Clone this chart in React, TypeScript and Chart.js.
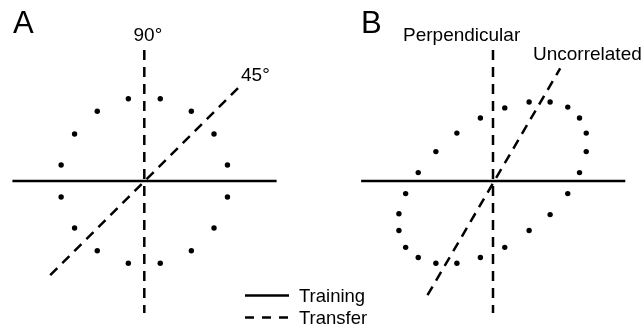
import { useEffect, useRef } from 'react';
import { Chart, registerables } from 'chart.js';

Chart.register(...registerables);

// ---------- data (units: radius of panel A circle = 1) ----------
const panelLabels = ['A', 'B'];
const lineLabelsA = ['90°', '45°'];
const lineLabelsB = ['Perpendicular', 'Uncorrelated'];
const legendLabels = ['Training', 'Transfer'];

// Panel A: training directions on a circle
const dotsAX = [0.19, 0.56, 0.83, 0.99, 0.99, 0.83, 0.56, 0.19, -0.19, -0.56, -0.83, -0.99, -0.99, -0.83, -0.56, -0.19];
const dotsAY = [0.98, 0.83, 0.56, 0.19, -0.19, -0.56, -0.83, -0.98, -0.98, -0.83, -0.56, -0.19, 0.19, 0.56, 0.83, 0.98];

// Panel B: tilted ellipse
const dotsBX = [0.14, 0.43, 0.68, 0.89, 1.03, 1.11, 1.11, 1.03, 0.89, 0.68, 0.43, 0.14, -0.15, -0.43, -0.68, -0.89, -1.04, -1.12, -1.12, -1.04, -0.89, -0.68, -0.43, -0.15];
const dotsBY = [0.87, 0.94, 0.94, 0.88, 0.75, 0.57, 0.35, 0.10, -0.15, -0.40, -0.59, -0.79, -0.91, -0.98, -0.98, -0.91, -0.79, -0.59, -0.39, -0.15, 0.10, 0.35, 0.57, 0.75];

// Lines (end points)
const trainingX = [-1.57, 1.575];
const trainingY = [0, 0];
const perpX = [0, 0];
const perpY = [1.56, -1.57];
const transferAX = [-1.12, 1.12];
const transferAY = [-1.12, 1.11];
const transferBX = [-0.78, 0.8];
const transferBY = [-1.36, 1.34];

const pts = (xs: number[], ys: number[]) => xs.map((x, i) => ({ x, y: ys[i] }));

const FONT = '"Liberation Sans", Arial, Helvetica, sans-serif';
const INK = '#000000';
const DASH = [10, 7];

const textPlugin = {
  id: 'figureText',
  afterDraw(chart: any) {
    const ctx = chart.ctx;
    ctx.save();
    ctx.fillStyle = INK;
    ctx.textBaseline = 'alphabetic';
    ctx.textAlign = 'left';
    // panel letters
    ctx.font = `31px ${FONT}`;
    ctx.fillText(panelLabels[0], 13, 33.3);
    ctx.fillText(panelLabels[1], 361, 33.3);
    // line labels
    ctx.font = `19px ${FONT}`;
    ctx.fillText(lineLabelsA[0], 133.5, 41);
    ctx.fillText(lineLabelsA[1], 241, 81);
    ctx.fillText(lineLabelsB[0], 403, 41);
    ctx.fillText(lineLabelsB[1], 533, 60);
    // legend
    ctx.strokeStyle = INK;
    ctx.lineWidth = 2.5;
    ctx.beginPath();
    ctx.setLineDash([]);
    ctx.moveTo(245, 295.5);
    ctx.lineTo(289, 295.5);
    ctx.stroke();
    ctx.beginPath();
    ctx.setLineDash([9, 8]);
    ctx.moveTo(245, 317.5);
    ctx.lineTo(290, 317.5);
    ctx.stroke();
    ctx.setLineDash([]);
    ctx.font = `18.5px ${FONT}`;
    ctx.fillText(legendLabels[0], 299, 302);
    ctx.fillText(legendLabels[1], 299, 323.5);
    ctx.restore();
  },
};

export default function App() {
  const ref = useRef<HTMLCanvasElement>(null);

  useEffect(() => {
    if (!ref.current) return;
    const U = 84; // pixels per unit
    const lineDs = (xs: number[], ys: number[], axis: string, dashed: boolean) => ({
      type: 'line' as const,
      data: pts(xs, ys),
      xAxisID: axis,
      yAxisID: 'y',
      showLine: true,
      borderColor: INK,
      borderWidth: 2.5,
      borderDash: dashed ? DASH : [],
      borderCapStyle: 'butt' as const,
      pointRadius: 0,
      fill: false,
      tension: 0,
    });
    const dotDs = (xs: number[], ys: number[], axis: string) => ({
      type: 'scatter' as const,
      data: pts(xs, ys),
      xAxisID: axis,
      yAxisID: 'y',
      showLine: false,
      pointRadius: 2.7,
      pointBackgroundColor: INK,
      pointBorderWidth: 0,
      borderColor: INK,
      backgroundColor: INK,
    });

    const chart = new Chart(ref.current, {
      type: 'scatter',
      data: {
        datasets: [
          lineDs(trainingX, trainingY, 'xA', false),
          lineDs(perpX, perpY, 'xA', true),
          lineDs(transferAX, transferAY, 'xA', true),
          dotDs(dotsAX, dotsAY, 'xA'),
          lineDs(trainingX, trainingY, 'xB', false),
          lineDs(perpX, perpY, 'xB', true),
          lineDs(transferBX, transferBY, 'xB', true),
          dotDs(dotsBX, dotsBY, 'xB'),
        ] as any,
      },
      options: {
        animation: false,
        responsive: false,
        layout: { padding: 0, autoPadding: false },
        plugins: { legend: { display: false }, tooltip: { enabled: false }, title: { display: false } },
        scales: {
          xA: { type: 'linear', display: false, min: -144.3 / U, max: (644 - 144.3) / U },
          xB: { type: 'linear', display: false, min: -493 / U, max: (644 - 493) / U },
          y: { type: 'linear', display: false, min: -(325 - 181) / U, max: 181 / U },
        },
      } as any,
      plugins: [textPlugin],
    });
    return () => chart.destroy();
  }, []);

  return (
    <div style={{ position: 'absolute', left: 0, top: 0, width: 644, height: 325, background: '#fff' }}>
      <canvas ref={ref} width={644} height={325} style={{ display: 'block' }} />
    </div>
  );
}
